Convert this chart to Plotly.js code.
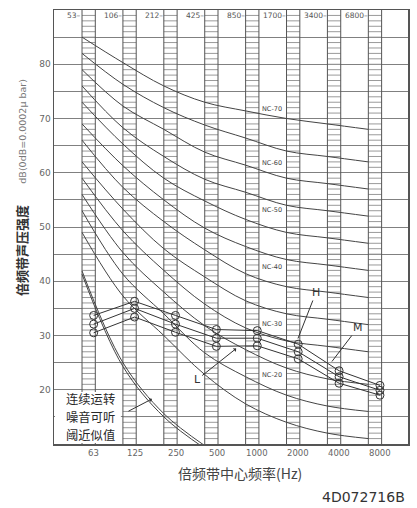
<!DOCTYPE html>
<html><head><meta charset="utf-8">
<script src="https://cdn.plot.ly/plotly-3.0.1.min.js"></script>
<style>html,body{margin:0;padding:0;background:#fff}#chart{width:417px;height:508px}</style>
</head><body><div id="chart"></div>
<script>
// ---- data ----
const bandLabels    = ['63','125','250','500','1000','2000','4000','8000'];
const oldBandLabels = ['53','106','212','425','850','1700','3400','6800'];

const nc70 = [85, 80.3, 76, 73, 71.4, 70, 69, 68];
const nc65 = [82, 76.3, 72, 68.8, 66.4, 64, 63, 62];
const nc60 = [79, 72.3, 68, 63.8, 61.4, 59, 58, 57];
const nc55 = [76, 68.3, 63, 58.8, 56.4, 54, 53, 52];
const nc50 = [73, 65.3, 59, 54.8, 51.4, 49, 48, 47];
const nc45 = [69, 61.3, 55, 49.8, 46.4, 44, 43, 42];
const nc40 = [66, 57.3, 51, 45.8, 41.4, 39, 38, 37];
const nc35 = [62, 53.3, 46, 40.8, 36.4, 34, 33, 32];
const nc30 = [59, 49.3, 42, 35.8, 31.4, 29, 28, 27];
const nc25 = [56, 45.3, 38, 31.8, 27.4, 24, 22, 21];
const nc20 = [53, 41.3, 34, 26.8, 22.4, 19, 17, 16];
const nc15 = [49, 37.3, 30, 22.8, 17.4, 14, 12, 11];

const ncLabelNames  = ['NC-70','NC-60','NC-50','NC-40','NC-30','NC-20'];
const ncLabelLevels = [71.7, 61.8, 53.1, 42.6, 32.2, 22.8];

const seriesH = [33.7, 36.3, 33.7, 31.1, 30.9, 28.4, 23.5, 20.8];
const seriesM = [32.1, 35.0, 32.1, 29.5, 29.5, 27.0, 22.4, 19.9];
const seriesL = [30.5, 33.4, 30.6, 28.0, 28.1, 25.7, 21.2, 19.0];

const thresholdOuter = [41.3, 24.3, 15.0, 9.2];
const thresholdInner = [41.9, 25.0, 15.6, 9.7];

const thresholdText = ['连续运转','噪音可听','阈近似值'];

// ---- geometry / style ----
const W = 0.325;          // column width (octave-index units)
const DATA_OFF = 0.285;   // position of measured points inside a column
const idx = bandLabels.map((_, i) => i);

const traces = [];

// column hatching
const hx = [], hy = [];
idx.forEach(k => {
  for (let d = 11; d <= 89; d++) { hx.push(k, k + W, null); hy.push(d, d, null); }
});
traces.push({x: hx, y: hy, mode: 'lines', line: {color: '#9a9a9a', width: 1}, hoverinfo: 'skip'});

// column edges
const ex = [], ey = [];
idx.forEach(k => { [k, k + W].forEach(xx => { ex.push(xx, xx, null); ey.push(10, 90, null); }); });
traces.push({x: ex, y: ey, mode: 'lines', line: {color: '#555', width: 1}, hoverinfo: 'skip'});

// NC curves
[nc70, nc65, nc60, nc55, nc50, nc45, nc40, nc35, nc30, nc25, nc20, nc15].forEach(v => {
  traces.push({x: idx, y: v, mode: 'lines', line: {color: '#444', width: 1, shape: 'spline', smoothing: 1}, hoverinfo: 'skip'});
});

// threshold (double line)
[thresholdOuter, thresholdInner].forEach(v => {
  traces.push({x: idx.slice(0, v.length), y: v, mode: 'lines', line: {color: '#444', width: 1, shape: 'spline', smoothing: 1}, hoverinfo: 'skip'});
});

// measured series
const xs = idx.map(k => k + DATA_OFF);
[seriesH, seriesM, seriesL].forEach(v => {
  traces.push({x: xs, y: v, mode: 'lines+markers', line: {color: '#333', width: 1},
    marker: {symbol: 'circle-open', size: 8, color: '#333', line: {width: 1}}, hoverinfo: 'skip'});
});

const annotations = [];
// top band labels
oldBandLabels.forEach((t, k) => annotations.push({x: k + 0.03, y: 89, xref: 'x', yref: 'y', text: t + '–',
  xanchor: 'right', yanchor: 'middle', showarrow: false, font: {family: 'DejaVu Sans', size: 7.5, color: '#555'}}));
// bottom band labels
bandLabels.forEach((t, k) => annotations.push({x: k + 0.29, y: -0.021, xref: 'x', yref: 'paper', text: t,
  xanchor: 'center', yanchor: 'middle', showarrow: false, font: {family: 'DejaVu Sans', size: 8.5, color: '#666'}}));
// NC labels
ncLabelNames.forEach((t, i) => annotations.push({x: 4.65, y: ncLabelLevels[i], xref: 'x', yref: 'y', text: t,
  xanchor: 'center', yanchor: 'middle', showarrow: false, font: {family: 'DejaVu Sans', size: 6.5, color: '#444'}}));
// threshold text box (three rows)
const textLevels = [18.34, 15.03, 11.72];
thresholdText.forEach((t, i) => annotations.push({x: 0.2, y: textLevels[i], xref: 'x', yref: 'y', text: t,
  xanchor: 'center', yanchor: 'middle', showarrow: false, borderpad: 0,
  font: {family: 'Noto Sans CJK SC', size: 12.3, color: '#2a2a2a'}}));
// arrow to threshold
annotations.push({x: 1.71, y: 18.3, xref: 'x', yref: 'y', text: '', showarrow: true, ax: -25, ay: 13,
  arrowhead: 1, arrowsize: 0.8, arrowwidth: 1, arrowcolor: '#333'});
// series labels
annotations.push({x: 5.28, y: 29.45, xref: 'x', yref: 'y', text: 'H', showarrow: true, ax: 18, ay: -46,
  arrowhead: 0, arrowwidth: 1, arrowcolor: '#333', font: {family: 'DejaVu Sans', size: 11, color: '#333'}});
annotations.push({x: 6.11, y: 25.2, xref: 'x', yref: 'y', text: 'M', showarrow: true, ax: 26, ay: -34,
  arrowhead: 0, arrowwidth: 1, arrowcolor: '#333', font: {family: 'DejaVu Sans', size: 11, color: '#333'}});
annotations.push({x: 3.77, y: 27.6, xref: 'x', yref: 'y', text: 'L', showarrow: true, ax: -39, ay: 31,
  arrowhead: 1, arrowsize: 0.8, arrowwidth: 1, arrowcolor: '#333', font: {family: 'DejaVu Sans', size: 11, color: '#333'}});
// axis titles and code
annotations.push({x: 0.525, y: -0.0668, xref: 'paper', yref: 'paper', text: '倍频带中心频率(Hz)', showarrow: false,
  xanchor: 'center', yanchor: 'middle', font: {family: 'Noto Sans CJK SC', size: 14, color: '#444'}});
annotations.push({x: -0.093, y: 0.4447, xref: 'paper', yref: 'paper', text: '<b>倍频带声压强度</b>', showarrow: false,
  textangle: -90, xanchor: 'center', yanchor: 'middle', font: {family: 'Noto Sans CJK SC', size: 13, color: '#333'}});
annotations.push({x: -0.09, y: 0.72, xref: 'paper', yref: 'paper', text: 'dB(0dB=0.0002μ bar)', showarrow: false,
  textangle: -90, xanchor: 'center', yanchor: 'middle', font: {family: 'DejaVu Sans', size: 9.5, color: '#777'}});
annotations.push({x: 0.997, y: -0.122, xref: 'paper', yref: 'paper', text: '4D072716B', showarrow: false,
  xanchor: 'right', yanchor: 'middle', font: {family: 'DejaVu Sans', size: 14, color: '#333'}});

const yTicks = [], yText = [];
for (let v = 10; v <= 90; v += 5) { yTicks.push(v); yText.push(v % 10 === 0 && v > 10 && v < 90 ? String(v) : ''); }

const layout = {
  width: 417, height: 508,
  margin: {l: 54, r: 9, t: 10, b: 64},
  paper_bgcolor: '#fff', plot_bgcolor: '#fff',
  showlegend: false,
  xaxis: {range: [-0.685, 7.97], showgrid: false, zeroline: false, showticklabels: false,
    showline: true, mirror: true, linecolor: '#555', linewidth: 1.5, ticks: ''},
  yaxis: {range: [10, 90], tickvals: yTicks, ticktext: yText, showgrid: true, gridcolor: '#808080', gridwidth: 1,
    zeroline: false, showline: true, mirror: true, linecolor: '#555', linewidth: 1.5, ticks: '',
    tickfont: {family: 'DejaVu Sans', size: 9, color: '#666'}},
  shapes: [{type: 'rect', xref: 'x', yref: 'y', x0: -0.66, x1: 0.95, y0: 10.2, y1: 19.6,
    fillcolor: '#fff', line: {width: 0}, layer: 'above'}],
  annotations: annotations
};

Plotly.newPlot('chart', traces, layout, {displayModeBar: false, staticPlot: true});
</script>
</body></html>
